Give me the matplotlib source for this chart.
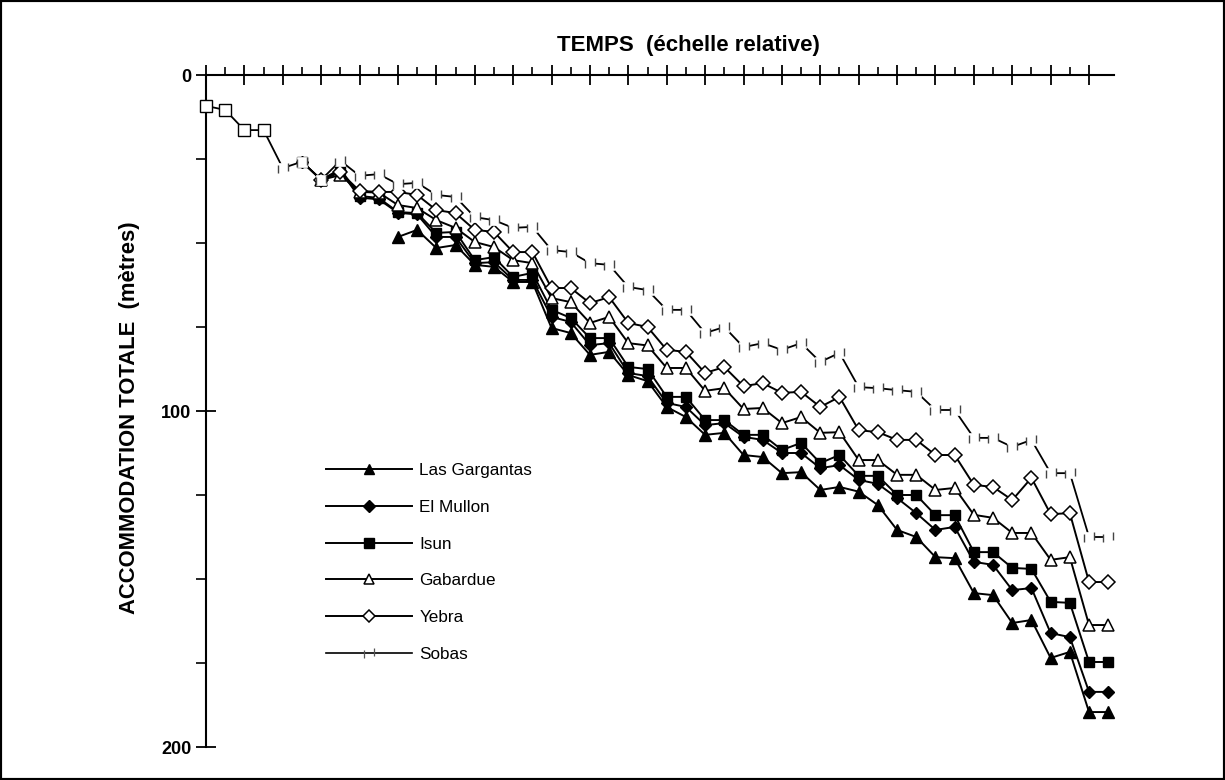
import matplotlib
matplotlib.use("Agg")
import matplotlib.pyplot as plt
from matplotlib.patches import Rectangle
from matplotlib.path import Path

plt.rcParams['font.family'] = ['Liberation Sans', 'DejaVu Sans']

# ---------------- data (time step index -> total accommodation, m) ----------------
series_names = ["Las Gargantas", "El Mullon", "Isun", "Gabardue", "Yebra", "Sobas"]

start_gargantas = 10
gargantas = [48.2, 46.1,
             51.5, 50.6, 56.5, 57.1, 61.6, 61.6, 75.3, 76.8, 83.3, 82.4, 89.3, 91.1,
             98.8, 101.8, 107.1, 106.5, 113.1, 113.7, 118.5, 118.2, 123.5, 122.6, 124.0, 128.0,
             135.4, 137.5, 143.5, 143.8, 154.2, 154.8, 163.1, 162.2, 173.5, 171.7, 189.6, 189.6]

start_mullon = 5
mullon = [25.8, 31.2, 28.5, 36.5, 37.0, 41.0, 41.5,
          48.2, 48.2, 56.0, 55.7, 61.0, 61.0, 72.0, 73.5, 80.4, 79.8, 88.7, 89.6,
          97.6, 98.8, 104.2, 103.6, 107.7, 108.6, 112.5, 112.5, 117.0, 116.1, 120.5, 121.7,
          125.9, 130.4, 135.4, 134.5, 144.9, 145.8, 153.3, 152.7, 166.1, 167.3, 183.6, 183.6]

start_isun = 5
isun = [25.8, 31.2, 28.0, 36.0, 36.6, 40.8, 41.1,
        47.0, 46.7, 55.1, 54.2, 60.1, 58.9, 69.9, 72.3, 78.3, 78.3, 86.9, 87.5,
        95.8, 95.8, 102.7, 102.7, 107.1, 107.1, 111.6, 109.5, 115.5, 113.1, 119.3, 119.3,
        125.0, 125.0, 131.0, 131.0, 142.0, 142.0, 146.7, 147.0, 156.8, 157.1, 174.7, 174.7]

start_gabardue = 6
gabardue = [31.2, 29.8, 34.8, 35.0, 38.7, 39.6,
            43.2, 45.5, 49.7, 51.2, 55.1, 56.0, 66.4, 67.6, 73.8, 72.0, 79.8, 80.5,
            87.2, 87.2, 94.0, 93.2, 99.4, 99.1, 103.6, 101.8, 106.5, 106.3, 114.6, 114.6,
            119.0, 119.0, 123.5, 122.9, 130.9, 131.8, 136.3, 136.3, 144.3, 143.5, 163.7, 163.7]

start_yebra = 6
yebra = [31.2, 29.0, 34.5, 34.8, 34.8, 35.7,
         40.2, 41.1, 46.1, 46.7, 52.7, 52.7, 63.4, 63.4, 67.9, 66.1, 73.8, 75.0,
         81.8, 82.4, 88.7, 86.9, 92.6, 91.7, 94.6, 94.3, 98.8, 95.8, 105.7, 106.3,
         108.6, 108.6, 113.1, 113.1, 122.0, 122.6, 126.5, 119.9, 130.7, 130.4, 150.9, 150.9]

start_sobas = 0
sobas = [9.2, 10.4, 16.4, 16.4, 27.7, 25.8, 31.2, 25.5, 30.0, 29.5, 32.5, 32.1,
         35.7, 36.3, 42.3, 43.2, 45.5, 45.2, 52.1, 52.7, 56.0, 56.5, 63.1, 64.0,
         69.9, 69.9, 76.8, 75.0, 81.0, 79.8, 81.8, 79.8, 85.4, 82.7, 92.9, 93.2,
         93.8, 94.3, 99.7, 99.7, 108.0, 108.0, 110.7, 108.6, 118.5, 118.5, 137.5, 137.5]

y_ticks = [0, 100, 200]
y_tick_labels = ["0", "100", "200"]

# ---------------- figure ----------------
W, H = 1225, 780
fig = plt.figure(figsize=(W / 100, H / 100), dpi=100)
fig.patch.set_facecolor("white")
ax = fig.add_axes([206 / W, 1 - 747 / H, (1114 - 206) / W, (747 - 75) / H])
ax.set_facecolor("white")
ax.set_xlim(0, 47.3)
ax.set_ylim(200, 0)

lw = 1.4
common = dict(color="black", lw=lw, clip_on=False)

def xs(start, vals):
    return list(range(start, start + len(vals)))

# faint, partly printed open square used for Sobas (only the vertical sides show)
sobas_marker = Path([(-1, -1), (-1, 0.6), (1, -0.6), (1, 1)],
                    [Path.MOVETO, Path.LINETO, Path.MOVETO, Path.LINETO])

h_garg, = ax.plot(xs(start_gargantas, gargantas), gargantas, marker="^", ms=8.5,
                  mfc="black", mec="black", label=series_names[0], zorder=3, **common)
h_mul, = ax.plot(xs(start_mullon, mullon), mullon, marker="D", ms=6.5,
                 mfc="black", mec="black", label=series_names[1], zorder=3, **common)
h_isun, = ax.plot(xs(start_isun, isun), isun, marker="s", ms=7.5,
                  mfc="black", mec="black", label=series_names[2], zorder=3, **common)
h_gab, = ax.plot(xs(start_gabardue, gabardue), gabardue, marker="^", ms=8.5,
                 mfc="white", mec="black", mew=1.1, label=series_names[3], zorder=4, **common)
h_yeb, = ax.plot(xs(start_yebra, yebra), yebra, marker="D", ms=7,
                 mfc="white", mec="black", mew=1.1, label=series_names[4], zorder=4, **common)
# Sobas: line broken by a white square, with faint vertical remnants of the marker
sob_x = xs(start_sobas, sobas)
ax.plot(sob_x, sobas, color="black", lw=1.3, marker="s", ms=7.0, mfc="white",
        mec="white", mew=0.5, zorder=5, clip_on=False)
ax.plot(sob_x, sobas, ls="none", marker=sobas_marker, ms=7.5, mec="#444444",
        mew=1.0, zorder=6, clip_on=False)
# first points of Sobas are printed clearly
ax.plot(sob_x[:4], sobas[:4], ls="none", marker="s", ms=8, mfc="white", mec="black",
        mew=1.0, zorder=6, clip_on=False)
h_sob, = ax.plot([], [], color="black", lw=1.2, marker=sobas_marker, ms=7.5,
                 mec="#555555", mew=0.9, label=series_names[5])

# axes styling
for s in ["right", "bottom"]:
    ax.spines[s].set_visible(False)
for s in ["top", "left"]:
    ax.spines[s].set_linewidth(1.5)

ax.xaxis.tick_top()
ax.set_xticks(list(range(0, 47, 2)))
ax.set_xticks(list(range(1, 47, 2)), minor=True)
ax.tick_params(axis="x", which="major", direction="inout", length=15, width=1.3,
               labeltop=False, labelbottom=False)
ax.tick_params(axis="x", which="minor", direction="out", length=6, width=1.2)

ax.set_yticks(y_ticks)
ax.set_yticklabels(y_tick_labels)
ax.set_yticks([25, 50, 75, 125, 150, 175], minor=True)
ax.tick_params(axis="y", which="major", direction="inout", length=15, width=1.3,
               labelsize=13, pad=3)
ax.tick_params(axis="y", which="minor", direction="out", length=7, width=1.2)
for t in ax.get_yticklabels():
    t.set_fontweight("bold")

fig.text(688 / W, 1 - 45 / H, "TEMPS  (échelle relative)", ha="center", va="center",
         fontsize=16, fontweight="bold")
fig.text(130 / W, 1 - 418 / H, "ACCOMMODATION TOTALE  (mètres)", ha="center", va="center",
         rotation=90, fontsize=15.8, fontweight="bold")

leg = ax.legend(handles=[h_garg, h_mul, h_isun, h_gab, h_yeb, h_sob],
                loc="upper left", bbox_to_anchor=(311 / W, 1 - 448 / H),
                bbox_transform=fig.transFigure, frameon=False, handlelength=5.0,
                labelspacing=1.27, fontsize=12.3, handletextpad=0.45, markerscale=0.9)

fig.patches.append(Rectangle((0, 0), 1, 1, transform=fig.transFigure, fill=False,
                             lw=3, edgecolor="black"))

fig.savefig("out.png", dpi=100, facecolor="white")
